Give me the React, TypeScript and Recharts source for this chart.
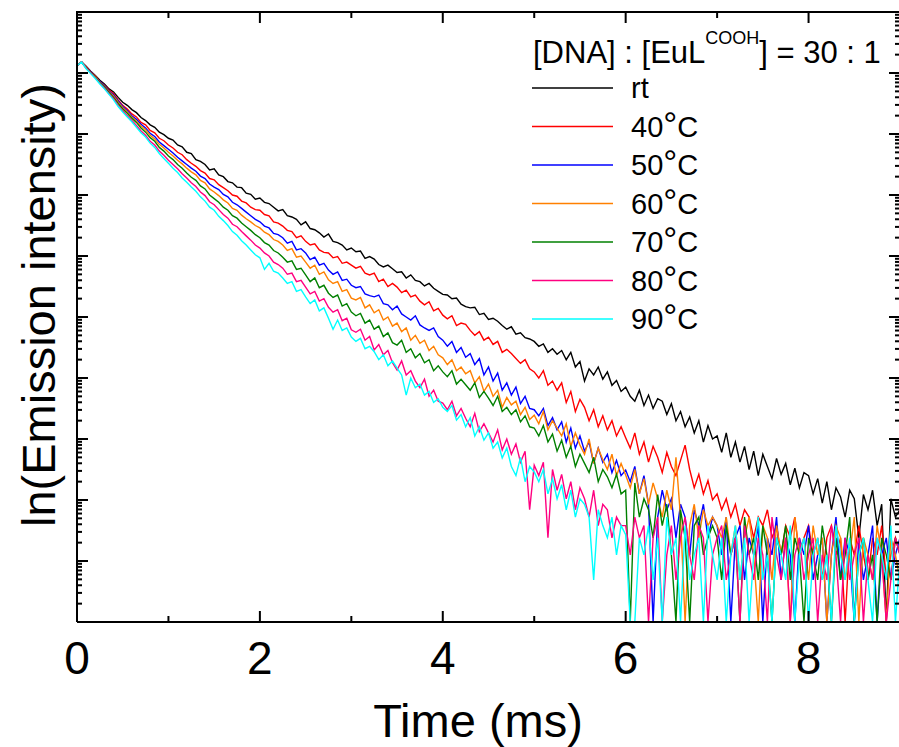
import { Line, LineChart, XAxis, YAxis } from "recharts";

const FONT = "'Liberation Sans', Arial, Helvetica, sans-serif";

// plot frame (px): left = y-axis width, bottom = chart height - bottom margin - x-axis height
const PLOT_LEFT = 77;
const PLOT_TOP = 12;
const PLOT_RIGHT = 900;
const PLOT_BOTTOM = 622;

const X_DOMAIN = [0, 9];
const Y_DOMAIN = [0, 10];

// sampling step of the decay traces (ms)
const STEP = 0.05;

const X_TICKS = [0, 1, 2, 3, 4, 5, 6, 7, 8, 9];
const X_LABELED = [0, 2, 4, 6, 8];
const Y_DECADES = [0, 1, 2, 3, 4, 5, 6, 7, 8, 9, 10];
const Y_MINOR_STEPS = [2, 3, 4, 5, 6, 7, 8, 9];

// log10 intensity, one value every 0.05 ms from 0 to 9 ms
const RT = [
  9.12, 9.18, 9.11, 9.03, 8.96, 8.88, 8.82, 8.74, 8.69, 8.6, 8.52, 8.47, 8.4, 8.35, 8.27, 8.22, 8.15, 8.11, 8.03, 7.99,
  7.93, 7.9, 7.82, 7.79, 7.7, 7.68, 7.58, 7.55, 7.5, 7.41, 7.43, 7.33, 7.3, 7.22, 7.2, 7.13, 7.12, 7.03, 7.01, 6.93,
  6.95, 6.88, 6.86, 6.8, 6.74, 6.76, 6.66, 6.64, 6.6, 6.51, 6.56, 6.45, 6.43, 6.38, 6.31, 6.36, 6.24, 6.22, 6.18, 6.1,
  6.13, 6.07, 6.08, 5.96, 5.99, 5.95, 5.86, 5.82, 5.85, 5.79, 5.73, 5.74, 5.64, 5.69, 5.6, 5.58, 5.51, 5.55, 5.47, 5.42,
  5.37, 5.36, 5.3, 5.31, 5.21, 5.17, 5.15, 5.16, 5.04, 5.06, 4.96, 4.98, 4.93, 4.86, 4.8, 4.84, 4.72, 4.74, 4.66, 4.64,
  4.6, 4.52, 4.56, 4.42, 4.48, 4.39, 4.45, 4.3, 4.42, 4.18, 4.27, 3.95, 4.15, 4.05, 4.18, 3.98, 4.1, 3.88, 3.96, 3.78,
  3.85, 3.7, 3.62, 3.8, 3.55, 3.72, 3.5, 3.66, 3.62, 3.4, 3.58, 3.3, 3.45, 3.2, 3.36, 3.1, 3.3, 2.95, 3.22, 3.0,
  3.05, 2.78, 3.1, 2.7, 2.95, 2.62, 2.88, 2.5, 2.8, 2.4, 2.75, 2.55, 2.35, 2.68, 2.42, 2.6, 2.25, 2.52, 2.2, 2.45,
  2.4, 2.1, 2.35, 1.95, 2.3, 1.84, 2.2, 2.05, 1.72, 2.16, 2.02, 1.38, 2.09, 1.84, 2.16, 1.58, 1.93, 0, 2.02, 1.72, 1.84,
];

const C40 = [
  9.12, 9.18, 9.1, 9.02, 8.95, 8.86, 8.8, 8.72, 8.66, 8.56, 8.47, 8.41, 8.33, 8.28, 8.19, 8.15, 8.06, 8.02, 7.93, 7.89,
  7.82, 7.77, 7.7, 7.66, 7.58, 7.52, 7.47, 7.4, 7.36, 7.27, 7.25, 7.17, 7.12, 7.07, 7.0, 6.98, 6.9, 6.87, 6.8, 6.76,
  6.75, 6.68, 6.66, 6.56, 6.54, 6.49, 6.42, 6.4, 6.3, 6.33, 6.24, 6.18, 6.2, 6.1, 6.06, 6.05, 5.97, 5.99, 5.88, 5.9,
  5.85, 5.8, 5.83, 5.72, 5.69, 5.72, 5.58, 5.62, 5.5, 5.55, 5.49, 5.4, 5.44, 5.33, 5.36, 5.26, 5.2, 5.25, 5.1, 5.14,
  5.03, 4.97, 5.02, 4.86, 4.9, 4.88, 4.78, 4.7, 4.76, 4.62, 4.67, 4.55, 4.6, 4.42, 4.47, 4.4, 4.32, 4.24, 4.3, 4.15,
  4.1, 4.0, 4.12, 3.88, 3.95, 3.8, 3.92, 3.6, 3.78, 3.45, 3.65, 3.52, 3.3, 3.48, 3.2, 3.38, 3.15, 3.3, 3.05, 3.2,
  3.02, 2.85, 3.1, 2.75, 2.95, 2.62, 2.88, 2.7, 2.45, 2.78, 2.55, 2.4, 2.65, 2.9, 2.5, 2.2, 2.42, 2.1, 2.32, 2.0,
  2.1, 1.84, 2.02, 1.72, 1.93, 1.58, 1.84, 1.72, 1.38, 1.72, 1.58, 1.84, 1.38, 1.58, 1.1, 1.58, 1.38, 1.72, 1.1, 1.38,
  1.58, 1.1, 1.38, 0.69, 1.38, 1.58, 1.1, 1.38, 0, 1.38, 1.1, 1.58, 1.1, 0.69, 1.38, 1.1, 1.58, 0.69, 1.1, 1.38, 1.1,
];

const C50 = [
  9.12, 9.18, 9.09, 9.02, 8.94, 8.86, 8.79, 8.7, 8.64, 8.54, 8.45, 8.38, 8.3, 8.24, 8.16, 8.1, 8.01, 7.96, 7.87, 7.81,
  7.75, 7.69, 7.62, 7.56, 7.5, 7.44, 7.39, 7.31, 7.27, 7.18, 7.13, 7.09, 7.01, 6.97, 6.88, 6.84, 6.78, 6.72, 6.66, 6.6,
  6.56, 6.49, 6.46, 6.37, 6.35, 6.3, 6.21, 6.24, 6.1, 6.12, 6.05, 5.94, 5.98, 5.85, 5.88, 5.77, 5.7, 5.74, 5.6, 5.62,
  5.52, 5.48, 5.5, 5.38, 5.35, 5.33, 5.36, 5.22, 5.2, 5.12, 5.18, 5.05, 5.0, 4.95, 5.02, 4.87, 4.82, 4.78, 4.82, 4.68,
  4.62, 4.52, 4.6, 4.42, 4.5, 4.34, 4.4, 4.22, 4.32, 4.05, 4.18, 3.95, 4.08, 3.8, 3.92, 3.72, 3.85, 3.58, 3.7, 3.5,
  3.48, 3.38, 3.5, 3.22, 3.35, 3.15, 3.28, 2.95, 3.18, 2.85, 3.05, 2.8, 2.95, 2.6, 2.85, 2.62, 2.75, 2.45, 2.65, 2.4,
  2.49, 2.3, 2.55, 2.1, 2.4, 1.93, 0, 1.72, 2.16, 1.84, 2.02, 1.38, 1.93, 1.72, 1.1, 1.84, 1.58, 1.93, 1.38, 1.72,
  1.58, 1.1, 1.72, 0, 1.38, 1.58, 0.69, 1.38, 1.1, 1.58, 0, 1.38, 1.1, 1.72, 0.69, 1.38, 1.1, 0, 1.38, 1.1,
  1.58, 0.69, 1.1, 1.38, 0, 1.1, 1.72, 0.69, 1.38, 1.1, 0, 1.38, 0.69, 1.1, 1.58, 0, 1.1, 1.38, 0.69, 1.1, 1.38,
];

const C60 = [
  9.12, 9.18, 9.09, 9.01, 8.94, 8.85, 8.78, 8.69, 8.62, 8.52, 8.43, 8.36, 8.28, 8.21, 8.13, 8.07, 7.98, 7.92, 7.83, 7.77,
  7.7, 7.64, 7.57, 7.51, 7.44, 7.38, 7.33, 7.24, 7.2, 7.1, 7.05, 6.99, 6.92, 6.87, 6.78, 6.75, 6.67, 6.61, 6.56, 6.5,
  6.46, 6.39, 6.35, 6.27, 6.24, 6.18, 6.09, 6.12, 5.98, 6.0, 5.9, 5.8, 5.85, 5.7, 5.74, 5.61, 5.55, 5.58, 5.42, 5.45,
  5.31, 5.28, 5.32, 5.15, 5.2, 5.07, 5.12, 4.95, 5.0, 4.85, 4.9, 4.76, 4.82, 4.62, 4.7, 4.57, 4.62, 4.45, 4.52, 4.38,
  4.33, 4.22, 4.3, 4.12, 4.18, 4.07, 4.12, 3.92, 4.02, 3.78, 3.9, 3.7, 3.8, 3.52, 3.68, 3.56, 3.62, 3.4, 3.52, 3.32,
  3.39, 3.25, 3.45, 3.15, 3.3, 3.18, 3.05, 3.25, 2.88, 3.1, 2.9, 2.75, 3.0, 2.6, 2.85, 2.66, 2.5, 2.75, 2.4, 2.6,
  2.41, 2.2, 2.5, 2.1, 2.35, 1.93, 2.28, 2.02, 1.72, 2.16, 1.84, 2.7, 1.72, 0, 1.58, 1.93, 1.38, 1.84, 1.58, 1.72,
  1.58, 1.38, 1.72, 1.1, 1.58, 0.69, 1.38, 1.72, 1.1, 0, 1.58, 1.38, 0.69, 1.58, 1.1, 1.38, 0, 1.72, 1.1, 1.38,
  0.69, 1.58, 1.1, 1.38, 0, 1.1, 1.58, 1.38, 0.69, 1.1, 1.72, 0, 1.38, 1.1, 0.69, 1.58, 1.1, 0, 1.38, 1.1, 0.69,
];

const C70 = [
  9.12, 9.18, 9.08, 9.01, 8.93, 8.84, 8.77, 8.68, 8.6, 8.5, 8.41, 8.34, 8.26, 8.19, 8.1, 8.03, 7.94, 7.88, 7.78, 7.72,
  7.64, 7.58, 7.5, 7.44, 7.36, 7.29, 7.24, 7.15, 7.1, 7.0, 6.94, 6.88, 6.8, 6.75, 6.66, 6.62, 6.54, 6.48, 6.42, 6.35,
  6.3, 6.22, 6.18, 6.09, 6.05, 5.98, 5.9, 5.92, 5.78, 5.8, 5.69, 5.58, 5.64, 5.48, 5.52, 5.39, 5.32, 5.36, 5.18, 5.22,
  5.08, 5.02, 5.06, 4.9, 4.95, 4.8, 4.85, 4.68, 4.74, 4.58, 4.54, 4.62, 4.42, 4.48, 4.33, 4.4, 4.25, 4.3, 4.12, 4.2,
  4.1, 4.02, 4.12, 3.9, 3.98, 3.89, 3.8, 3.92, 3.68, 3.78, 3.67, 3.55, 3.7, 3.45, 3.52, 3.4, 3.48, 3.28, 3.38, 3.2,
  3.18, 3.05, 3.22, 2.95, 3.08, 2.8, 2.98, 2.7, 2.88, 2.55, 2.75, 2.6, 2.45, 2.7, 2.3, 2.5, 2.38, 2.2, 2.42, 2.1,
  2.16, 0, 2.28, 1.72, 2.02, 1.84, 1.38, 2.09, 1.58, 1.93, 1.1, 0, 1.84, 1.38, 0, 1.58, 1.72, 1.1, 1.38, 1.58,
  1.38, 0.69, 1.58, 1.1, 1.38, 0, 1.72, 1.1, 1.38, 0.69, 1.58, 1.1, 0, 1.38, 1.1, 1.58, 0.69, 1.38, 1.1, 0,
  1.38, 1.1, 0.69, 1.58, 1.1, 0, 1.38, 0.69, 1.1, 1.72, 0, 1.1, 1.38, 0.69, 1.1, 0, 1.38, 1.1, 0.69, 1.38, 1.1,
];

const C80 = [
  9.12, 9.18, 9.08, 9.0, 8.92, 8.83, 8.75, 8.66, 8.58, 8.47, 8.38, 8.3, 8.22, 8.14, 8.05, 7.98, 7.88, 7.82, 7.72, 7.65,
  7.57, 7.5, 7.43, 7.35, 7.28, 7.2, 7.14, 7.05, 6.99, 6.89, 6.84, 6.76, 6.68, 6.62, 6.52, 6.48, 6.4, 6.33, 6.26, 6.18,
  6.13, 6.05, 6.0, 5.9, 5.86, 5.8, 5.7, 5.72, 5.58, 5.6, 5.49, 5.38, 5.42, 5.26, 5.3, 5.16, 5.08, 5.12, 4.94, 4.98,
  4.79, 4.75, 4.8, 4.62, 4.68, 4.46, 4.55, 4.38, 4.45, 4.25, 4.13, 4.28, 4.05, 4.12, 3.95, 3.84, 3.98, 3.7, 3.8, 3.62,
  3.59, 3.48, 3.62, 3.38, 3.5, 3.34, 3.2, 3.42, 3.12, 3.25, 3.1, 2.95, 3.15, 2.82, 3.0, 2.75, 2.92, 2.62, 2.8, 1.84,
  2.57, 2.4, 2.62, 1.38, 2.5, 2.16, 2.42, 2.02, 2.3, 1.84, 2.2, 2.02, 1.72, 2.16, 1.58, 1.93, 1.84, 1.38, 1.72, 1.58,
  1.58, 1.1, 1.72, 1.38, 1.58, 0, 1.38, 1.72, 0, 1.1, 1.58, 0.69, 1.38, 1.72, 1.1, 0.69, 1.58, 1.38, 0, 1.1,
  1.38, 1.58, 0.69, 1.1, 1.38, 0, 1.58, 1.1, 0.69, 1.38, 1.1, 0, 1.72, 1.1, 0.69, 1.38, 0, 1.1, 1.38, 0.69,
  1.1, 1.38, 0, 1.1, 0.69, 1.58, 1.1, 0, 1.38, 0.69, 1.1, 1.38, 0, 1.1, 0.69, 1.38, 1.1, 0, 0.69, 1.38, 1.1,
];

const C90 = [
  9.12, 9.18, 9.07, 8.99, 8.91, 8.82, 8.74, 8.65, 8.56, 8.45, 8.36, 8.28, 8.2, 8.11, 8.02, 7.95, 7.85, 7.78, 7.68, 7.6,
  7.52, 7.44, 7.37, 7.28, 7.21, 7.13, 7.06, 6.97, 6.9, 6.8, 6.75, 6.65, 6.58, 6.5, 6.4, 6.34, 6.25, 6.18, 6.1, 6.02,
  5.97, 5.78, 5.88, 5.75, 5.72, 5.64, 5.55, 5.58, 5.42, 5.45, 5.33, 5.22, 5.28, 5.1, 5.15, 4.98, 4.8, 4.95, 4.78, 4.82,
  4.67, 4.6, 4.65, 4.48, 4.52, 4.43, 4.3, 4.38, 4.2, 4.28, 4.16, 4.05, 3.72, 4.0, 3.84, 3.9, 3.72, 3.78, 3.6, 3.66,
  3.52, 3.45, 3.55, 3.31, 3.4, 3.2, 3.35, 3.05, 3.2, 2.98, 3.1, 2.85, 2.95, 2.69, 2.85, 2.55, 2.4, 2.7, 2.3, 2.55,
  2.46, 2.3, 2.5, 2.1, 2.35, 2.02, 2.25, 1.84, 2.16, 1.72, 2.02, 1.93, 1.72, 0.69, 1.84, 1.58, 1.38, 1.72, 1.1, 1.58,
  1.43, 0, 0, 1.38, 1.1, 1.58, 0.69, 1.38, 0, 1.72, 1.1, 1.38, 0, 1.58, 0.69, 1.1, 1.38, 0, 1.58, 1.1,
  0.69, 1.38, 0, 1.1, 1.58, 0.69, 1.38, 0, 1.1, 1.72, 0.69, 1.1, 0, 1.38, 1.1, 0.69, 1.58, 0, 1.1, 1.38,
  0, 1.1, 1.38, 0.69, 1.1, 0, 1.58, 1.1, 0.69, 1.38, 0, 1.1, 1.38, 0.69, 0, 1.38, 1.1, 0.69, 1.58, 0, 1.1,
];

const SERIES = [
  { key: "rt", name: "rt", color: "#000000", values: RT },
  { key: "c40", name: "40°C", color: "#FF0000", values: C40 },
  { key: "c50", name: "50°C", color: "#0000FF", values: C50 },
  { key: "c60", name: "60°C", color: "#FF8000", values: C60 },
  { key: "c70", name: "70°C", color: "#008000", values: C70 },
  { key: "c80", name: "80°C", color: "#FF0080", values: C80 },
  { key: "c90", name: "90°C", color: "#00FFFF", values: C90 },
];

const data = RT.map((_, i) => {
  const row: Record<string, number> = { t: Math.round(i * STEP * 100) / 100 };
  SERIES.forEach((s) => {
    row[s.key] = s.values[i];
  });
  return row;
});

const Y_TICKS = [
  ...Y_DECADES,
  ...Y_DECADES.slice(0, -1).flatMap((d) => Y_MINOR_STEPS.map((m) => d + Math.log10(m))),
].sort((a, b) => a - b);

const isDecade = (v: number) => Math.abs(v - Math.round(v)) < 1e-6;
const timeTickLen = (t: number) => (X_LABELED.includes(t) ? 11 : 6);
const intensityTickLen = (v: number) => (isDecade(v) ? 11 : 5);

// same linear mapping the axes use, for the mirrored top/right ticks
const xPx = (t: number) =>
  PLOT_LEFT + ((t - X_DOMAIN[0]) / (X_DOMAIN[1] - X_DOMAIN[0])) * (PLOT_RIGHT - PLOT_LEFT);
const yPx = (v: number) =>
  PLOT_BOTTOM - ((v - Y_DOMAIN[0]) / (Y_DOMAIN[1] - Y_DOMAIN[0])) * (PLOT_BOTTOM - PLOT_TOP);

function TimeTick({ x, y, payload }: any) {
  const labeled = X_LABELED.includes(payload.value);
  return (
    <g>
      <line x1={x} x2={x} y1={y} y2={y - timeTickLen(payload.value)} stroke="#000" strokeWidth={2} />
      {labeled && (
        <text x={x} y={y + 52} textAnchor="middle" fontSize={46} fontFamily={FONT} fill="#000">
          {payload.value}
        </text>
      )}
    </g>
  );
}

function IntensityTick({ x, y, payload }: any) {
  return <line x1={x} x2={x + intensityTickLen(payload.value)} y1={y} y2={y} stroke="#000" strokeWidth={2} />;
}

// top border plus the inward ticks mirrored on the top and right sides,
// drawn in an svg layer laid over the chart
function FrameOverlay() {
  return (
    <svg
      width={899}
      height={747}
      style={{ position: "absolute", left: 0, top: 0, pointerEvents: "none", zIndex: 5 }}
    >
      <line x1={PLOT_LEFT - 1} x2={PLOT_RIGHT} y1={PLOT_TOP} y2={PLOT_TOP} stroke="#000" strokeWidth={2} />
      {X_TICKS.map((t) => (
        <line
          key={`t${t}`}
          x1={xPx(t)}
          x2={xPx(t)}
          y1={PLOT_TOP}
          y2={PLOT_TOP + timeTickLen(t)}
          stroke="#000"
          strokeWidth={2}
        />
      ))}
      {Y_TICKS.map((v, i) => (
        <line
          key={`v${i}`}
          x1={PLOT_RIGHT}
          x2={PLOT_RIGHT - intensityTickLen(v)}
          y1={yPx(v)}
          y2={yPx(v)}
          stroke="#000"
          strokeWidth={2}
        />
      ))}
    </svg>
  );
}

// legend drawn inside the chart surface, in series order
function SeriesKey() {
  return (
    <g transform="translate(528 30)">
      <text x={5} y={33} fontSize={31} fontFamily={FONT} fill="#000">
        [DNA] : [EuL
        <tspan fontSize={18} dy={-19}>
          COOH
        </tspan>
        <tspan fontSize={31} dy={19}>
          ] = 30 : 1
        </tspan>
      </text>
      {SERIES.map((s, i) => {
        const y = 58 + 38.5 * i;
        const parts = s.name.split("°");
        return (
          <g key={s.key}>
            <line x1={4} x2={85} y1={y} y2={y} stroke={s.color} strokeWidth={1.5} />
            <text x={103} y={y + 10} fontSize={29} fontFamily={FONT} fill="#000">
              {parts[0]}
              {parts.length > 1 && <tspan fontSize={35}>°</tspan>}
              {parts.length > 1 && <tspan fontSize={29}>{parts[1]}</tspan>}
            </text>
          </g>
        );
      })}
    </g>
  );
}

export default function App() {
  return (
    <div
      style={{
        position: "absolute",
        left: 0,
        top: 0,
        width: 899,
        height: 747,
        overflow: "hidden",
        background: "#fff",
      }}
    >
      <LineChart
        width={910}
        height={747}
        data={data}
        margin={{ top: PLOT_TOP, right: 910 - PLOT_RIGHT, bottom: 747 - PLOT_BOTTOM - 60, left: 0 }}
      >
        <XAxis
          dataKey="t"
          type="number"
          domain={X_DOMAIN}
          ticks={X_TICKS}
          interval={0}
          allowDataOverflow
          height={60}
          tickSize={0}
          tickMargin={0}
          tickLine={false}
          axisLine={{ stroke: "#000", strokeWidth: 2 }}
          tick={<TimeTick />}
        />
        <YAxis
          type="number"
          domain={Y_DOMAIN}
          ticks={Y_TICKS}
          interval={0}
          allowDataOverflow
          width={PLOT_LEFT}
          tickSize={0}
          tickMargin={0}
          tickLine={false}
          axisLine={{ stroke: "#000", strokeWidth: 2 }}
          tick={<IntensityTick />}
        />
        {SERIES.map((s) => (
          <Line
            key={s.key}
            type="linear"
            dataKey={s.key}
            name={s.name}
            stroke={s.color}
            strokeWidth={1.4}
            dot={false}
            activeDot={false}
            isAnimationActive={false}
          />
        ))}
        <SeriesKey />
        <text x={478} y={737} textAnchor="middle" fontSize={47} fontFamily={FONT} fill="#000">
          Time (ms)
        </text>
        <text transform="translate(55 305) rotate(-90)" textAnchor="middle" fontSize={47} fontFamily={FONT} fill="#000">
          ln(Emission intensity)
        </text>
      </LineChart>
      <FrameOverlay />
    </div>
  );
}
